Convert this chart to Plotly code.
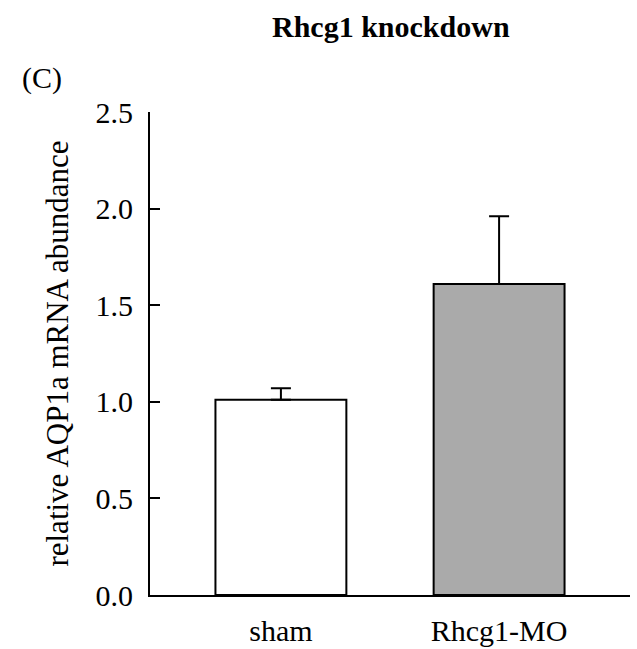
import plotly.graph_objects as go

categories = ["sham", "Rhcg1-MO"]
means = [1.01, 1.61]
errors = [0.06, 0.35]
colors = ["#ffffff", "#aaaaaa"]
yticks = [0.0, 0.5, 1.0, 1.5, 2.0, 2.5]
ytick_labels = ["0.0", "0.5", "1.0", "1.5", "2.0", "2.5"]

FONT = "Liberation Serif, Times New Roman, serif"

fig = go.Figure()
fig.add_trace(go.Bar(
    x=categories,
    y=means,
    width=0.6,
    marker=dict(color=colors, line=dict(color="black", width=2)),
    error_y=dict(type="data", array=errors, symmetric=False, arrayminus=[0, 0],
                 color="black", thickness=2, width=10),
))

fig.update_layout(
    width=637, height=649,
    margin=dict(l=150, r=7, t=112, b=54),
    plot_bgcolor="white", paper_bgcolor="white",
    showlegend=False,
    font=dict(family=FONT, size=30, color="black"),
    xaxis=dict(
        range=[-0.6, 1.6], showline=True, linecolor="black", linewidth=2,
        ticks="", showgrid=False, zeroline=False, automargin=False,
        tickfont=dict(family=FONT, size=30),
        ticklabelstandoff=8,
    ),
    yaxis=dict(
        range=[0, 2.5], showline=True, linecolor="black", linewidth=2,
        ticks="inside", ticklen=10, tickwidth=2, tickcolor="black",
        tickvals=yticks, ticktext=ytick_labels, automargin=False,
        showgrid=False, zeroline=False,
        tickfont=dict(family=FONT, size=30),
        ticklabelstandoff=9,
        title=dict(text="relative AQP1a mRNA abundance", standoff=18,
                   font=dict(family=FONT, size=31)),
    ),
    annotations=[
        dict(text="<b>Rhcg1 knockdown</b>", xref="paper", yref="paper",
             x=(391 - 150) / 480, y=1 + (112 - 26) / 483,
             xanchor="center", yanchor="middle", showarrow=False,
             font=dict(family=FONT, size=30)),
        dict(text="(C)", xref="paper", yref="paper",
             x=(20 - 150) / 480, y=1 + (112 - 78) / 483,
             xanchor="left", yanchor="middle", showarrow=False,
             font=dict(family=FONT, size=30)),
    ],
)

fig.write_html("out.html")
